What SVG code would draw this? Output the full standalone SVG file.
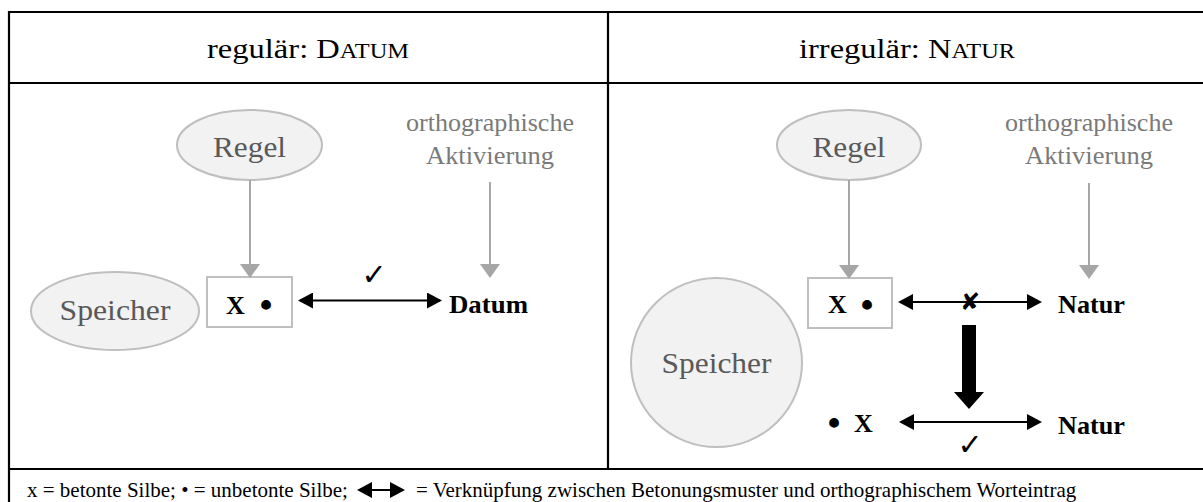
<svg xmlns="http://www.w3.org/2000/svg" width="1203" height="502" viewBox="0 0 1203 502">
  <style>
    .rule { stroke: #000; stroke-width: 2.2; fill: none; }
    .node { fill: #f2f2f2; stroke: #bfbfbf; stroke-width: 2; }
    .box { fill: #fff; stroke: #bfbfbf; stroke-width: 2; }
    text { font-family: "Liberation Serif", "Times New Roman", serif; }
    .head { font-size: 28px; fill: #000; text-anchor: middle; }
    .nlabel { font-size: 29px; fill: #595959; text-anchor: middle; }
    .glabel { font-size: 25px; fill: #7a7a7a; text-anchor: middle; }
    .word { font-size: 26px; font-weight: bold; fill: #000; }
    .dot { font-size: 36px; font-weight: bold; fill: #000; text-anchor: middle; }
    .sym { font-family: "DejaVu Sans", sans-serif; fill: #000; text-anchor: middle; }
    .gray { stroke: #a6a6a6; stroke-width: 2; fill: none; }
    .link { stroke: #000; stroke-width: 2; fill: none; }
    .foot { font-size: 21px; fill: #000; }
  </style>
  <defs>
    <marker id="grayHead" markerUnits="userSpaceOnUse" viewBox="0 0 14 20" markerWidth="14" markerHeight="20" refX="12" refY="10" orient="auto">
      <path d="M0,0 L14,10 L0,20 z" fill="#a6a6a6"/>
    </marker>
    <marker id="blackHead" markerUnits="userSpaceOnUse" viewBox="0 0 15 16" markerWidth="15" markerHeight="16" refX="13" refY="8" orient="auto-start-reverse">
      <path d="M0,0 L15,8 L0,16 z" fill="#000"/>
    </marker>
  </defs>

  <!-- table frame -->
  <g id="table">
    <path class="rule" d="M9,12 H1203 M9,83 H1203 M9,469 H1203 M9,11 V502 M608,12 V469"/>
    <text class="head" x="308" y="58" textLength="202" lengthAdjust="spacingAndGlyphs">regulär: D<tspan font-size="21">ATUM</tspan></text>
    <text class="head" x="907" y="58" textLength="216" lengthAdjust="spacingAndGlyphs">irregulär: N<tspan font-size="21">ATUR</tspan></text>
  </g>

  <!-- left panel: regular stress -->
  <g id="regel-left">
    <ellipse class="node" cx="249.5" cy="145" rx="72.5" ry="35"/>
    <text class="nlabel" x="249.5" y="157" textLength="73" lengthAdjust="spacingAndGlyphs">Regel</text>
  </g>
  <g id="ortho-left">
    <text class="glabel" x="490" y="131" textLength="168" lengthAdjust="spacingAndGlyphs">orthographische</text>
    <text class="glabel" x="490" y="164" textLength="128" lengthAdjust="spacingAndGlyphs">Aktivierung</text>
  </g>
  <g id="speicher-left">
    <ellipse class="node" cx="115" cy="311" rx="84" ry="39"/>
    <text class="nlabel" x="115" y="320" textLength="111" lengthAdjust="spacingAndGlyphs">Speicher</text>
  </g>
  <g id="pattern-left">
    <rect class="box" x="207" y="277" width="85" height="50"/>
    <text class="word" x="226" y="314">X</text>
    <text class="dot" x="266" y="317">•</text>
  </g>
  <g id="word-left">
    <text class="word" x="449" y="313" textLength="79" lengthAdjust="spacingAndGlyphs">Datum</text>
  </g>

  <!-- right panel: irregular stress -->
  <g id="regel-right">
    <ellipse class="node" cx="849" cy="145" rx="72" ry="35"/>
    <text class="nlabel" x="849" y="157" textLength="73" lengthAdjust="spacingAndGlyphs">Regel</text>
  </g>
  <g id="ortho-right">
    <text class="glabel" x="1089" y="131" textLength="168" lengthAdjust="spacingAndGlyphs">orthographische</text>
    <text class="glabel" x="1089" y="164" textLength="128" lengthAdjust="spacingAndGlyphs">Aktivierung</text>
  </g>
  <g id="speicher-right">
    <ellipse class="node" cx="716.5" cy="362.5" rx="85.5" ry="84.5"/>
    <text class="nlabel" x="716.5" y="373" textLength="110" lengthAdjust="spacingAndGlyphs">Speicher</text>
  </g>
  <g id="pattern-right">
    <rect class="box" x="808" y="278" width="84" height="50"/>
    <text class="word" x="828" y="313">X</text>
    <text class="dot" x="867" y="317">•</text>
  </g>
  <g id="word-right">
    <text class="word" x="1058" y="313" textLength="67" lengthAdjust="spacingAndGlyphs">Natur</text>
  </g>
  <g id="pattern-shifted">
    <text class="dot" x="834" y="435">•</text>
    <text class="word" x="854" y="432">X</text>
  </g>
  <g id="word-shifted">
    <text class="word" x="1058" y="434" textLength="67" lengthAdjust="spacingAndGlyphs">Natur</text>
  </g>

  <!-- connectors -->
  <g id="connectors">
    <path class="gray" d="M250,180 V276" marker-end="url(#grayHead)"/>
    <path class="gray" d="M490,182 V276" marker-end="url(#grayHead)"/>
    <path class="link" d="M300,300.5 H440" marker-start="url(#blackHead)" marker-end="url(#blackHead)"/>
    <text class="sym" x="374" y="285" font-size="30">✓</text>

    <path class="gray" d="M849,180 V277" marker-end="url(#grayHead)"/>
    <path class="gray" d="M1089,183 V277" marker-end="url(#grayHead)"/>
    <path class="link" d="M900,302 H1040" marker-start="url(#blackHead)" marker-end="url(#blackHead)"/>
    <text class="sym" x="970" y="310" font-size="24">✘</text>

    <polygon points="962,325 976,325 976,392 984,392 969,409 954,392 962,392" fill="#000"/>

    <path class="link" d="M901,422 H1040" marker-start="url(#blackHead)" marker-end="url(#blackHead)"/>
    <text class="sym" x="970" y="455" font-size="30">✓</text>
  </g>

  <!-- legend -->
  <g id="legend">
    <text class="foot" x="27" y="497">x = betonte Silbe; • = unbetonte Silbe;</text>
    <path class="link" d="M359,490 H403" marker-start="url(#blackHead)" marker-end="url(#blackHead)"/>
    <text class="foot" x="416" y="497">= Verknüpfung zwischen Betonungsmuster und orthographischem Worteintrag</text>
  </g>
</svg>
